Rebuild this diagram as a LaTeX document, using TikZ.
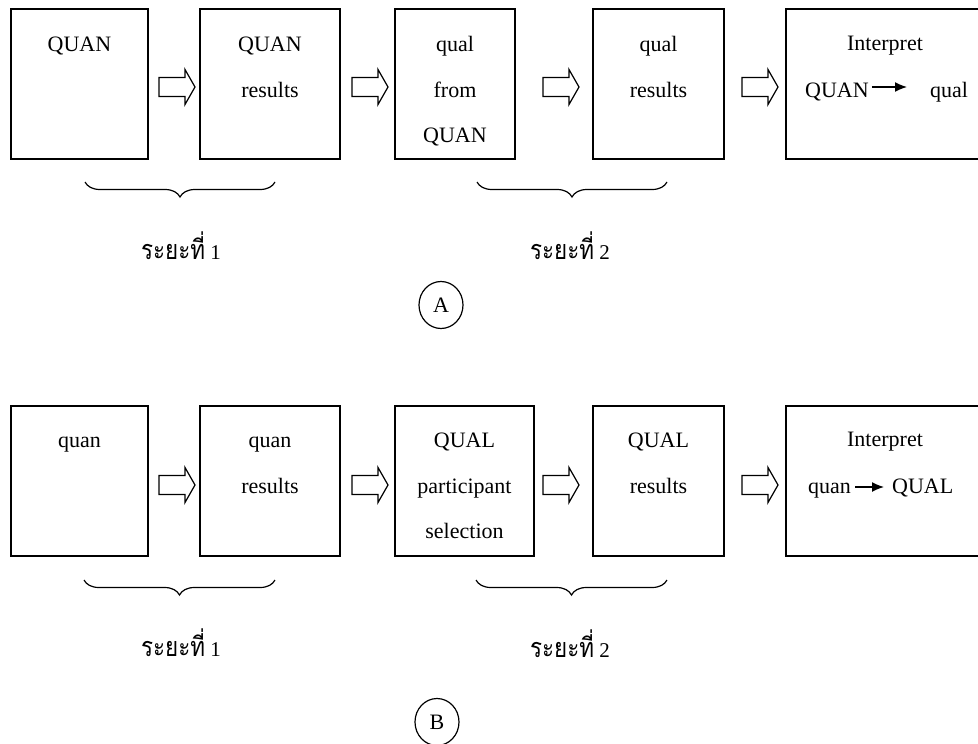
\documentclass[tikz,border=0pt]{standalone}
\usepackage{fontspec}
\setmainfont{Liberation Serif}
\newfontfamily\thaifont[Script=Thai,FakeStretch=0.83]{Loma}
\usetikzlibrary{arrows.meta,decorations.pathreplacing,shapes.geometric}
\newcommand\blockarr[2]{\draw[barrow] (#1,#2) ++(0,-9.5) -- ++(26,0) -- ++(0,-8) -- ++(10,17.5) -- ++(-10,17.5) -- ++(0,-8) -- ++(-26,0) -- cycle;}
\newcommand\thaiphase[1]{{\thaifont\fontsize{27}{30}\selectfont ระยะที่}~#1}
\begin{document}
\begin{tikzpicture}[x=1pt,y=-1pt,
  box/.style={draw,line width=2pt,inner sep=0pt,minimum height=150pt},
  lbl/.style={font=\fontsize{22}{26}\selectfont,anchor=base,inner sep=0pt},
  barrow/.style={draw,line width=1.2pt,fill=white},
  brc/.style={decorate,decoration={brace,amplitude=15pt,aspect=0.5},line width=1.2pt},
  phase/.style={font=\fontsize{21}{24}\selectfont,inner sep=0pt},
  tag/.style={draw,ellipse,line width=1.2pt,minimum width=44pt,minimum height=47pt,inner sep=0pt,font=\fontsize{22}{26}\selectfont},
  ia/.style={-{Latex[length=12pt,width=10pt]},line width=1.4pt}
]
\useasboundingbox (0,0) rectangle (978,744);
\clip (0,0) rectangle (978,744);

% ---------------- Panel A ----------------
\node[box,minimum width=137pt] (a1) at (79.5,84) {};
\node[box,minimum width=140pt] (a2) at (270,84) {};
\node[box,minimum width=120pt] (a3) at (455,84) {};
\node[box,minimum width=131pt] (a4) at (658.5,84) {};
\node[box,minimum width=200pt] (a5) at (886,84) {};

\blockarr{159}{87}
\blockarr{352}{87}
\blockarr{543}{87}
\blockarr{742}{87}

\node[lbl] (a1t) at (79.5,51) {QUAN};
\node[lbl] (a2t) at (270,51) {QUAN};
\node[lbl] (a2u) at (270,97) {results};
\node[lbl] (a3t) at (455,51) {qual};
\node[lbl] (a3u) at (455,97) {from};
\node[lbl] (a3v) at (455,142) {QUAN};
\node[lbl] (a4t) at (658.5,51) {qual};
\node[lbl] (a4u) at (658.5,97) {results};
\node[lbl] (a5t) at (885,50) {Interpret};
\node[lbl,anchor=base west] (aq) at (805,97) {QUAN};
\node[lbl,anchor=base west] (al) at (930,97) {qual};
\coordinate (aend) at (907,87);
\draw[ia] ([shift={(3,-10)}]aq.base east) -- (aend);

\draw[brc] (275,182) -- (85,182);
\draw[brc] (667,182) -- (477,182);
\node[phase] (ap1) at (181,246) {\thaiphase{1}};
\node[phase] (ap2) at (570,246) {\thaiphase{2}};
\node[tag] (atag) at (441,305) {A};

% ---------------- Panel B ----------------
\node[box,minimum width=137pt] (b1) at (79.5,480.5) {};
\node[box,minimum width=140pt] (b2) at (270,480.5) {};
\node[box,minimum width=139pt] (b3) at (464.5,480.5) {};
\node[box,minimum width=131pt] (b4) at (658.5,480.5) {};
\node[box,minimum width=200pt] (b5) at (886,480.5) {};

\blockarr{159}{485}
\blockarr{352}{485}
\blockarr{543}{485}
\blockarr{742}{485}

\node[lbl] (b1t) at (79.5,447) {quan};
\node[lbl] (b2t) at (270,447) {quan};
\node[lbl] (b2u) at (270,493) {results};
\node[lbl] (b3t) at (464.5,447) {QUAL};
\node[lbl] (b3u) at (464.5,493) {participant};
\node[lbl] (b3v) at (464.5,538) {selection};
\node[lbl] (b4t) at (658.5,447) {QUAL};
\node[lbl] (b4u) at (658.5,493) {results};
\node[lbl] (b5t) at (885,446) {Interpret};
\node[lbl,anchor=base west] (bq) at (808,493) {quan};
\node[lbl,anchor=base west] (bl) at (892,493) {QUAL};
\coordinate (bend) at (884,487);
\draw[ia] ([shift={(4,-6)}]bq.base east) -- (bend);

\draw[brc] (275,580) -- (84,580);
\draw[brc] (667,580) -- (476,580);
\node[phase] (bp1) at (181,643) {\thaiphase{1}};
\node[phase] (bp2) at (570,644) {\thaiphase{2}};
\node[tag] (btag) at (437,722) {B};
\end{tikzpicture}
\end{document}
